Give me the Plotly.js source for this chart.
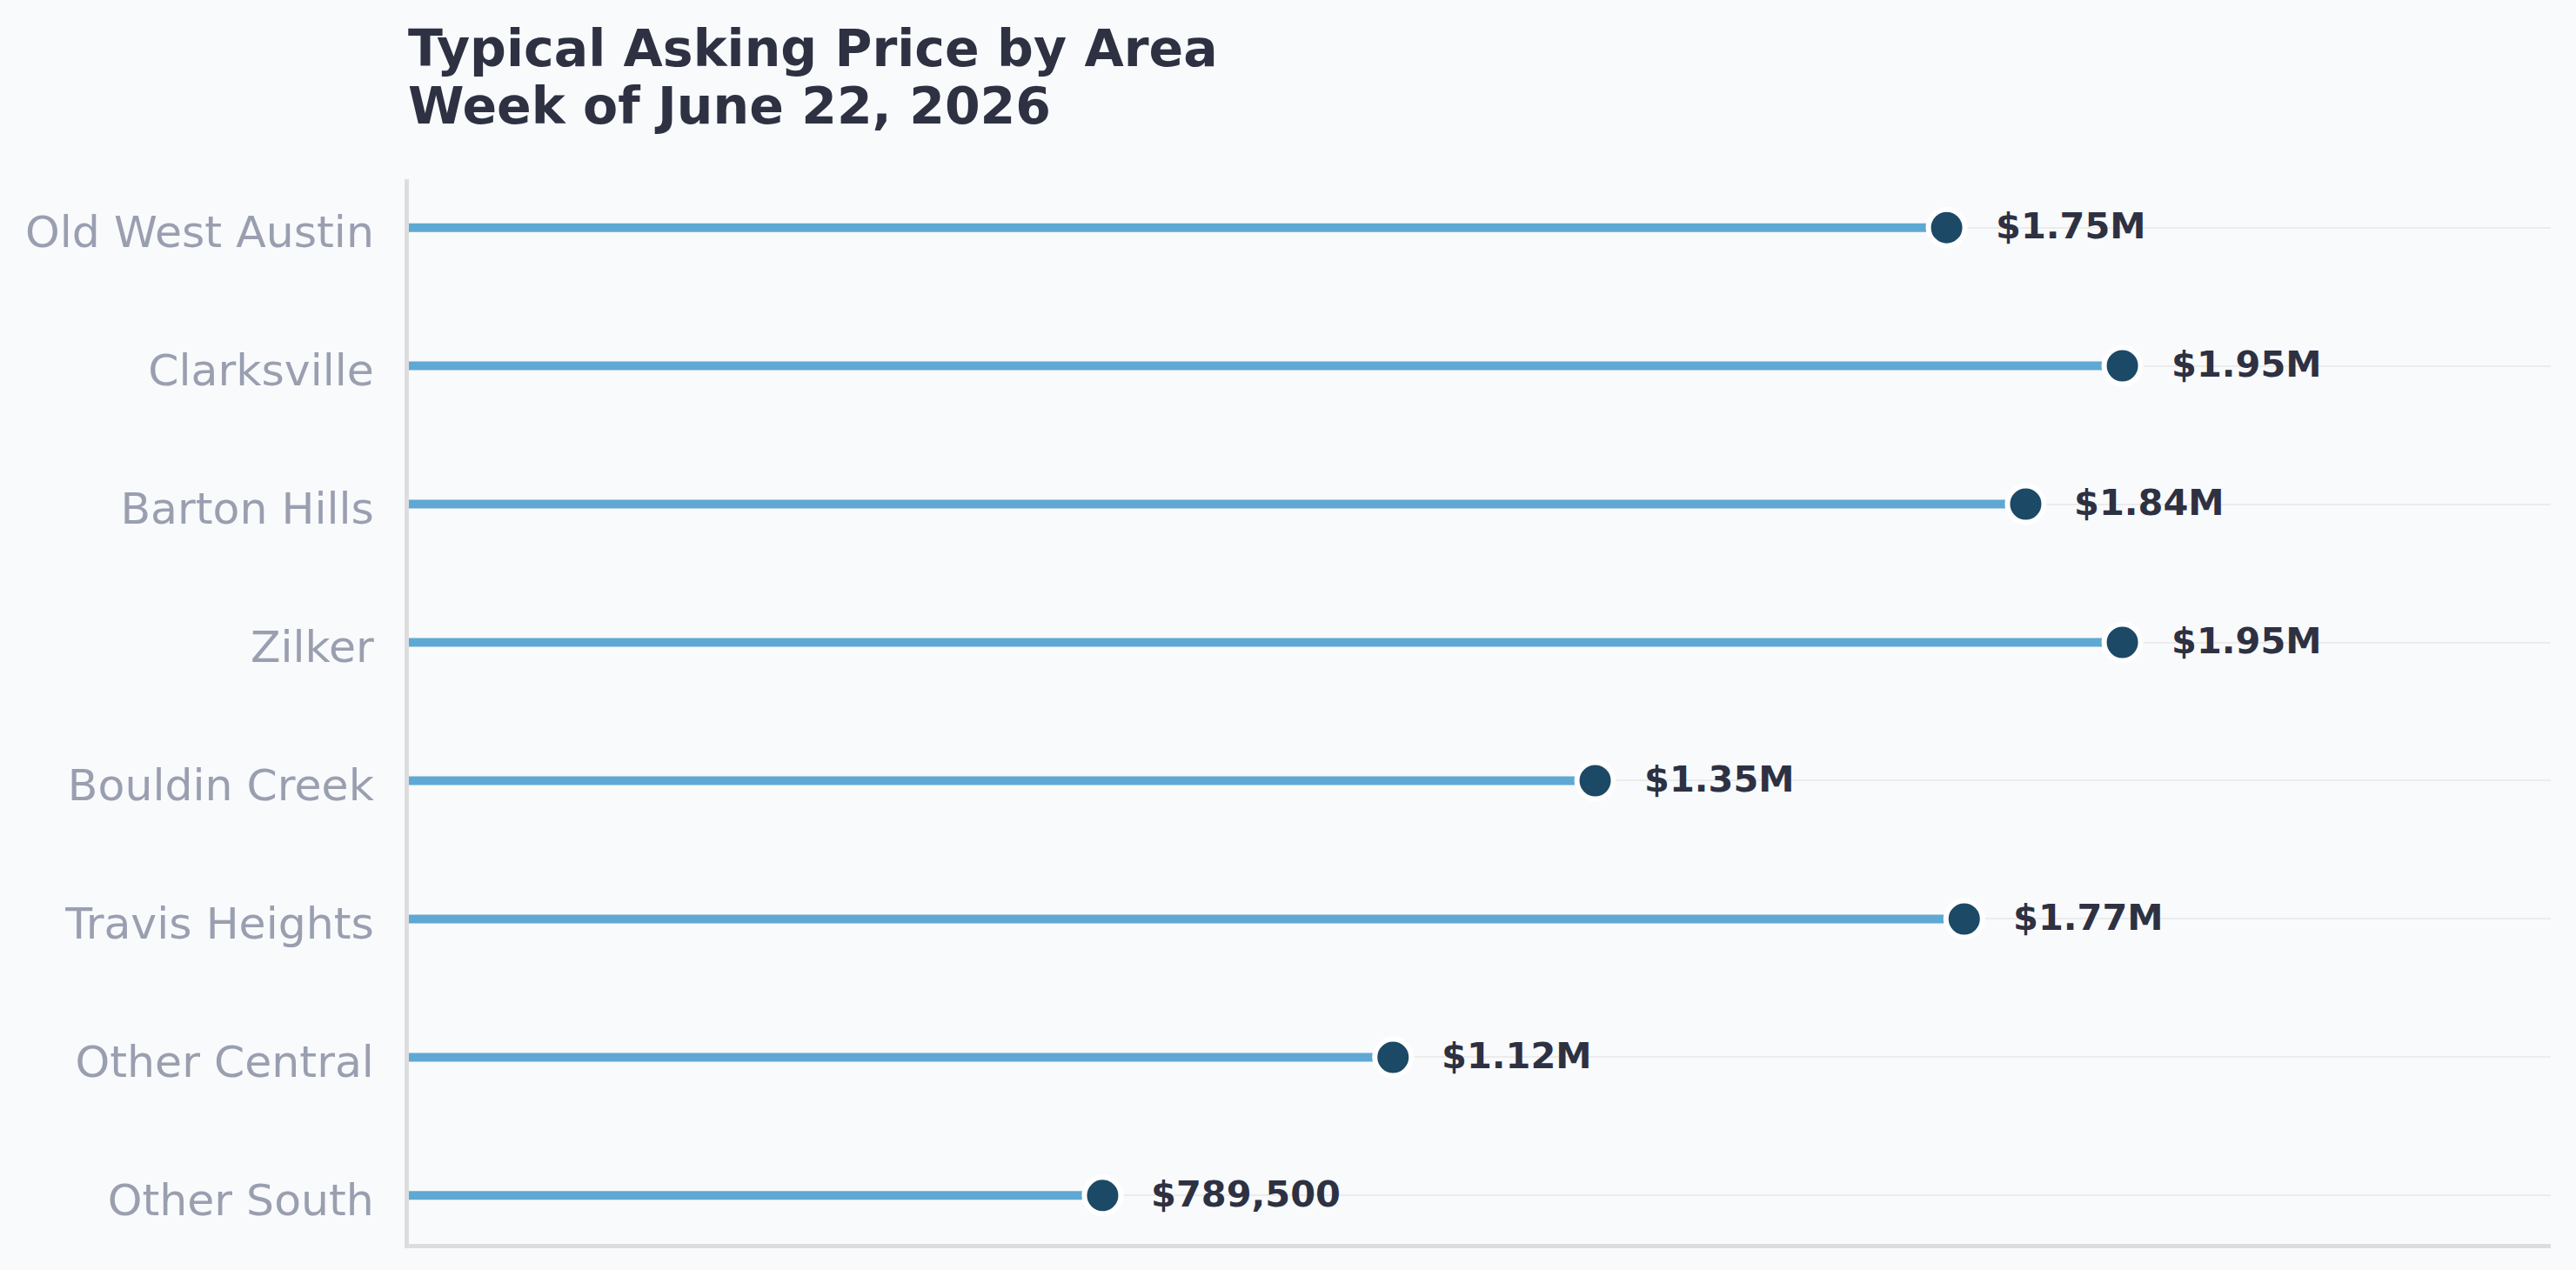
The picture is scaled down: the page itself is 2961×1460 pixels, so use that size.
<!DOCTYPE html>
<html>
<head>
<meta charset="utf-8">
<script src="https://cdn.plot.ly/plotly-3.0.1.min.js"></script>
<style>
  html, body { margin: 0; padding: 0; background: #f8fafc; }
  #chart { width: 2961px; height: 1460px; }
</style>
</head>
<body>
<div id="chart"></div>
<script>
// Typical asking price per neighbourhood, week of June 22, 2026
const areas = [
  "Old West Austin", "Clarksville", "Barton Hills", "Zilker",
  "Bouldin Creek", "Travis Heights", "Other Central", "Other South"
];
const askingPrice = [1750000, 1950000, 1840000, 1950000, 1350000, 1770000, 1120000, 789500];
const titleLines = ["Typical Asking Price by Area", "Week of June 22, 2026"];

const FONT = "DejaVu Sans, Verdana, sans-serif";
const INK = "#2d3142";

function fmtPrice(v) {
  if (v >= 1e6) return "$" + (v / 1e6).toFixed(2) + "M";
  return "$" + v.toLocaleString("en-US");
}

// Stems: one segment from zero to each price, separated by gaps
const stemX = [], stemY = [];
areas.forEach((a, i) => {
  stemX.push(0, askingPrice[i], null);
  stemY.push(a, a, null);
});

const stems = {
  type: "scatter", mode: "lines",
  x: stemX, y: stemY,
  line: { color: "#5fa8d3", width: 10 },
  hoverinfo: "skip", showlegend: false
};

const heads = {
  type: "scatter", mode: "markers",
  x: askingPrice, y: areas,
  marker: { size: 42, color: "#1c4966", line: { color: "#ffffff", width: 6 } },
  hovertemplate: "%{y}: %{x:$,.0f}<extra></extra>",
  showlegend: false
};

const valueLabels = areas.map((a, i) => ({
  x: askingPrice[i], y: a, xref: "x", yref: "y",
  text: fmtPrice(askingPrice[i]),
  showarrow: false, xanchor: "left", yanchor: "middle",
  xshift: 54, yshift: 2,
  font: { family: FONT, size: 41.5, color: INK, weight: "bold" }
}));

// Plot area spans pixels 206..1430 vertically
const plotTop = 206, plotBottom = 1430, plotH = plotBottom - plotTop;
const py = (pix) => (plotBottom - pix) / plotH;

const titleAnn = [
  { text: titleLines[0], y: py(56) },
  { text: titleLines[1], y: py(122) }
].map(t => ({
  text: t.text, xref: "paper", yref: "paper", x: 0, y: t.y,
  xanchor: "left", yanchor: "middle", showarrow: false, xshift: -3,
  font: { family: FONT, size: 58.5, color: INK, weight: "bold" }
}));

const maxPrice = Math.max(...askingPrice);

const layout = {
  width: 2961, height: 1460,
  paper_bgcolor: "#f8fafc", plot_bgcolor: "#f8fafc",
  margin: { l: 470, r: 29, t: plotTop, b: 1460 - plotBottom, pad: 0 },
  font: { family: FONT },
  xaxis: {
    range: [0, maxPrice * 1.25],
    showgrid: false, zeroline: false, showticklabels: false, ticks: "",
    showline: true, linecolor: "#dddddd", linewidth: 5
  },
  yaxis: {
    type: "category", categoryorder: "array", categoryarray: areas,
    range: [areas.length - 1 + 0.35, -0.35],
    showgrid: true, gridcolor: "#ececec", gridwidth: 2,
    zeroline: false, ticks: "",
    showline: true, linecolor: "#dddddd", linewidth: 5,
    ticklabelstandoff: 25,
    ticklabelshift: -5,
    tickfont: { family: FONT, size: 50.5, color: "#9a9fb0" }
  },
  annotations: valueLabels.concat(titleAnn),
  showlegend: false
};

Plotly.newPlot("chart", [stems, heads], layout, { displayModeBar: false, staticPlot: true });
</script>
</body>
</html>
